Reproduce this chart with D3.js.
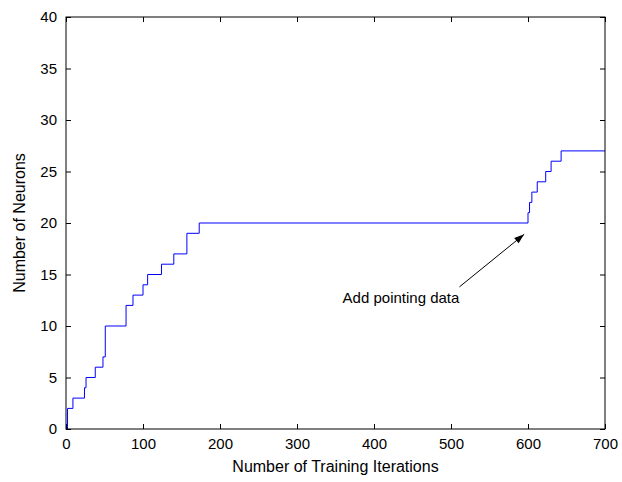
<!DOCTYPE html>
<html><head><meta charset="utf-8">
<script src="https://cdn.jsdelivr.net/npm/d3@7"></script>
<style>body{margin:0;background:#fff}svg{display:block}text{font-family:"Liberation Sans",Arial,sans-serif}</style>
</head><body><svg id="c" width="622" height="482"></svg>
<script>
const iterations = [0, 2, 9, 24, 26, 38, 48, 51, 78, 87, 100, 106, 124, 140, 157, 173, 600, 602, 605, 612, 623, 630, 643, 700];
const neurons    = [0, 2, 3, 4, 5, 6, 7, 10, 12, 13, 14, 15, 16, 17, 19, 20, 21, 22, 23, 24, 25, 26, 27, 27];
const xTicks = [0, 100, 200, 300, 400, 500, 600, 700];
const yTicks = [0, 5, 10, 15, 20, 25, 30, 35, 40];
const annotation = {text: "Add pointing data", fromX: 511, fromY: 13.8, toX: 595, toY: 18.9};

const svg = d3.select("#c");
const L = 66, R = 605, T = 17, B = 429;
const x = d3.scaleLinear().domain([0, 700]).range([L, R]);
const y = d3.scaleLinear().domain([0, 40]).range([B, T]);

const data = iterations.map((d, i) => [d, neurons[i]]);

svg.append("path").datum(data)
  .attr("fill", "none").attr("stroke", "#0000ff").attr("stroke-width", 1)
  .attr("d", d3.line().x(d => x(d[0])).y(d => y(d[1])).curve(d3.curveStepAfter));

function styleAxis(g, showLabels) {
  g.select(".domain").remove();
  g.selectAll(".tick line").attr("stroke", "#000");
  g.selectAll(".tick text").attr("fill", "#000").style("font-size", "15px");
  if (!showLabels) g.selectAll(".tick text").remove();
}
svg.append("g").attr("transform", `translate(0,${B})`)
  .call(d3.axisBottom(x).tickValues(xTicks).tickSizeInner(-5).tickSizeOuter(0).tickPadding(9))
  .call(g => styleAxis(g, true));
svg.append("g").attr("transform", `translate(0,${T})`)
  .call(d3.axisTop(x).tickValues(xTicks).tickSizeInner(-5).tickSizeOuter(0))
  .call(g => styleAxis(g, false));
svg.append("g").attr("transform", `translate(${L},0)`)
  .call(d3.axisLeft(y).tickValues(yTicks).tickSizeInner(-5).tickSizeOuter(0).tickPadding(9))
  .call(g => styleAxis(g, true));
svg.append("g").attr("transform", `translate(${R},0)`)
  .call(d3.axisRight(y).tickValues(yTicks).tickSizeInner(-5).tickSizeOuter(0))
  .call(g => styleAxis(g, false));

svg.append("rect").attr("x", L).attr("y", T).attr("width", R - L).attr("height", B - T)
  .attr("fill", "none").attr("stroke", "#000").attr("stroke-width", 1);

svg.append("text").attr("x", (L + R) / 2).attr("y", 472).attr("text-anchor", "middle")
  .style("font-size", "16px").text("Number of Training Iterations");
svg.append("text").attr("transform", `translate(25,${(T + B) / 2}) rotate(-90)`)
  .attr("text-anchor", "middle").style("font-size", "16px").text("Number of Neurons");

// annotation arrow
const x1 = x(annotation.fromX), y1 = y(annotation.fromY), x2 = x(annotation.toX), y2 = y(annotation.toY);
svg.append("line").attr("x1", x1).attr("y1", y1).attr("x2", x2).attr("y2", y2)
  .attr("stroke", "#000").attr("stroke-width", 1);
const ang = Math.atan2(y2 - y1, x2 - x1);
const hl = 10, hw = 3.5;
const bx = x2 - hl * Math.cos(ang), by = y2 - hl * Math.sin(ang);
svg.append("path").attr("fill", "#000")
  .attr("d", `M${x2},${y2}L${bx - hw * Math.sin(ang)},${by + hw * Math.cos(ang)}L${bx + hw * Math.sin(ang)},${by - hw * Math.cos(ang)}Z`);
svg.append("text").attr("x", 401).attr("y", 303).attr("text-anchor", "middle")
  .style("font-size", "15px").text(annotation.text);
</script></body></html>
